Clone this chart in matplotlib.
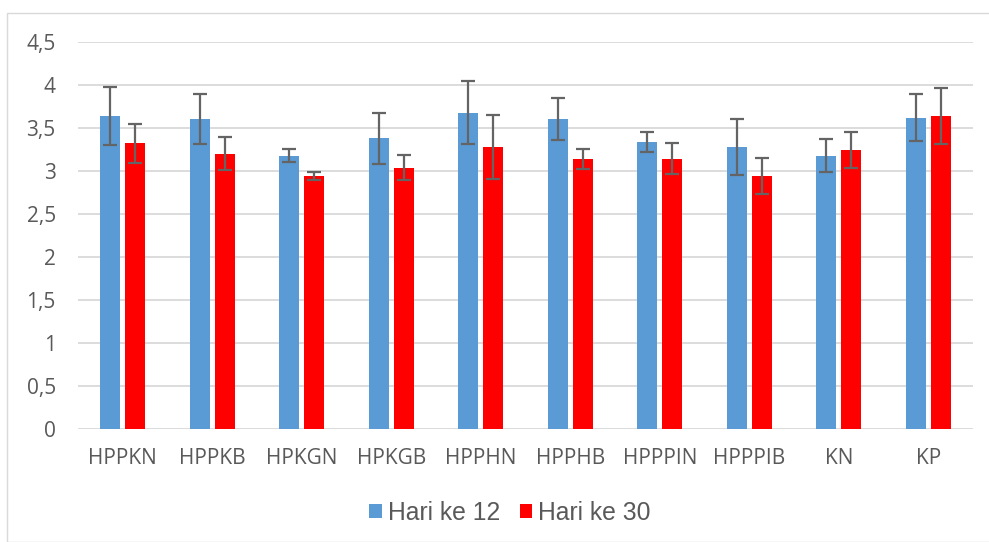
import matplotlib
matplotlib.use("Agg")
import matplotlib.pyplot as plt
import numpy as np
from matplotlib.patches import Rectangle

categories = ["HPPKN", "HPPKB", "HPKGN", "HPKGB", "HPPHN", "HPPHB", "HPPPIN", "HPPPIB", "KN", "KP"]
hari12 = [3.64, 3.60, 3.18, 3.38, 3.68, 3.60, 3.34, 3.28, 3.18, 3.62]
hari12_err = [0.34, 0.29, 0.08, 0.30, 0.37, 0.245, 0.117, 0.33, 0.195, 0.27]
hari30 = [3.32, 3.20, 2.94, 3.04, 3.28, 3.14, 3.14, 2.94, 3.24, 3.64]
hari30_err = [0.23, 0.19, 0.05, 0.15, 0.37, 0.115, 0.18, 0.21, 0.21, 0.325]
yticks = [0, 0.5, 1, 1.5, 2, 2.5, 3, 3.5, 4, 4.5]
ytick_labels = ["0", "0,5", "1", "1,5", "2", "2,5", "3", "3,5", "4", "4,5"]

W, H = 989, 542
fig = plt.figure(figsize=(W / 100, H / 100), dpi=100)
fig.patches.append(Rectangle((7 / W, 0), 1.2, 1 - 13 / H, transform=fig.transFigure,
                             fill=False, edgecolor="#d9d9d9", linewidth=1.0))
ax = fig.add_axes([78 / W, 1 - 429 / H, (973 - 78) / W, (429 - 42) / H])

x = np.arange(len(categories))
bw = 0.228
off = 0.14
ekw = dict(ecolor="#646464", elinewidth=1.6, capsize=5, capthick=1.6)
ax.bar(x - off, hari12, bw, color="#5b9bd5", yerr=hari12_err, error_kw=ekw, label="Hari ke 12", zorder=3)
ax.bar(x + off, hari30, bw, color="#ff0000", yerr=hari30_err, error_kw=ekw, label="Hari ke 30", zorder=3)

ax.set_xlim(-0.5, len(categories) - 0.5)
ax.set_ylim(0, 4.5)
ax.set_yticks(yticks)
ax.set_yticklabels(ytick_labels)
ax.set_xticks(x)
ax.set_xticklabels(categories)
for s in ax.spines.values():
    s.set_visible(False)
ax.grid(axis="y", color="#d9d9d9", linewidth=1.3, zorder=0)
ax.set_axisbelow(True)
ax.tick_params(axis="both", length=0, colors="#595959", labelsize=15)
ax.tick_params(axis="y", pad=16)
ax.tick_params(axis="x", pad=14)
for lbl in ax.get_xticklabels() + ax.get_yticklabels():
    lbl.set_family("Open Sans")

leg = fig.legend(loc="center", bbox_to_anchor=(510 / W, 1 - 513 / H), ncol=2, frameon=False,
                 prop={"family": "Liberation Sans", "size": 17.8}, handlelength=0.5, handleheight=0.5,
                 handletextpad=0.25, columnspacing=0.8)
for t in leg.get_texts():
    t.set_color("#595959")

fig.savefig("out.png", dpi=100)
